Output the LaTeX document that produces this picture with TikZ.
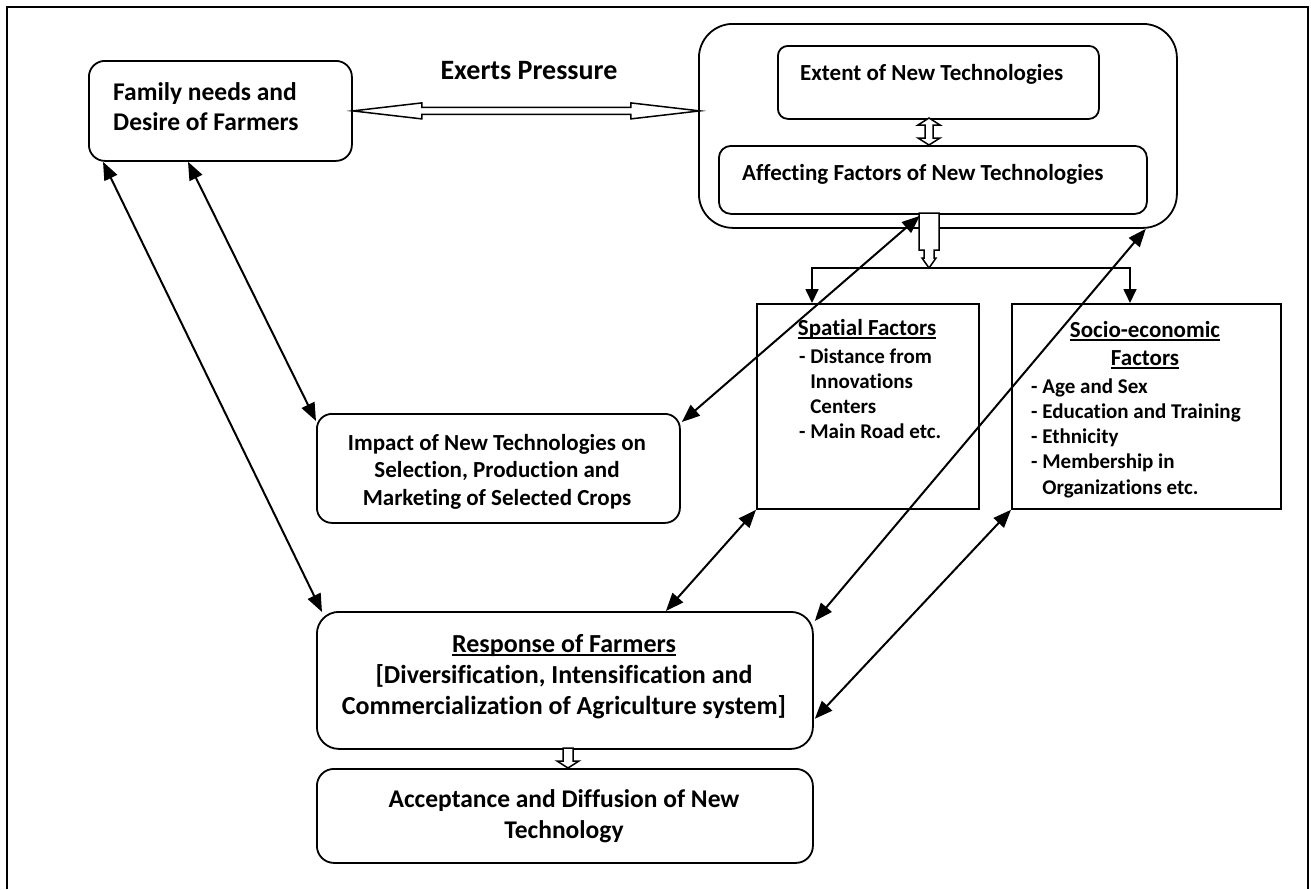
\documentclass[tikz,border=0pt]{standalone}
\usepackage{fontspec}
\setmainfont{Carlito}[Ligatures=NoCommon]
\usetikzlibrary{arrows.meta,calc}
\newcommand\mytabL[1]{\begin{tabular}[t]{@{}l@{}}#1\end{tabular}}
\newcommand\mytabC[1]{\begin{tabular}[t]{@{}c@{}}#1\end{tabular}}
\newcommand\myul[1]{\setbox0\hbox{#1}\rlap{\rule[-3.8pt]{\wd0}{1.5pt}}\box0}
\begin{document}
\begin{tikzpicture}[x=1pt,y=-1pt,
  box/.style={draw, line width=1.8pt, inner sep=0pt, anchor=north west},
  conn/.style={line width=2pt, {Triangle[length=18pt,width=14pt]}-{Triangle[length=18pt,width=14pt]}},
  down/.style={line width=1.7pt, -{Triangle[length=14pt,width=13pt]}},
  hollow/.style={draw, fill=white, line width=1.5pt, line join=miter},
  txt/.style={inner sep=0pt, anchor=base},
  fF/.style={font=\fontsize{25.5}{30}\selectfont\bfseries},
  fH/.style={font=\fontsize{23}{28}\selectfont\bfseries},
  fI/.style={font=\fontsize{21}{25.3}\selectfont\bfseries},
  fM/.style={font=\fontsize{23}{27.5}\selectfont\bfseries},
  fR/.style={font=\fontsize{26}{31}\selectfont\bfseries},
  fA/.style={font=\fontsize{25.5}{31}\selectfont\bfseries},
  fE/.style={font=\fontsize{28}{34}\selectfont\bfseries}]
\useasboundingbox (0,0) rectangle (1311,889);
\draw[line width=2.2pt] (7,889) -- (7,7) -- (1308,7) -- (1308,889);

% boxes
\node[box, rounded corners=16pt, minimum width=263pt, minimum height=100pt] (fam) at (88,60) {};
\node[box, rounded corners=34pt, minimum width=478pt, minimum height=204pt] (outer) at (698,23) {};
\node[box, rounded corners=10pt, minimum width=321pt, minimum height=73pt] (ext) at (777,45) {};
\node[box, rounded corners=12pt, minimum width=428pt, minimum height=68pt] (aff) at (718,145) {};
\node[box, minimum width=222pt, minimum height=205pt] (spat) at (756,303) {};
\node[box, minimum width=269pt, minimum height=205pt] (socio) at (1011,303) {};
\node[box, rounded corners=15pt, minimum width=363pt, minimum height=109pt] (imp) at (316,413) {};
\node[box, rounded corners=22pt, minimum width=496pt, minimum height=137pt] (resp) at (316,611) {};
\node[box, rounded corners=17pt, minimum width=496pt, minimum height=94pt] (acc) at (316,768) {};

% texts
\node[fE, txt] (tEx) at (529,79) {Exerts Pressure};
\node[fF, txt, anchor=base west] (tFam) at (113,100) {\mytabL{Family needs and\\Desire of Farmers}};
\node[fH, txt, anchor=base west] (tExt) at (800,80) {Extent of New Technologies};
\node[fH, txt, anchor=base west] (tAff) at (742,180) {Affecting Factors of New Technologies};
\node[fH, txt] (tSpH) at (867,335) {\myul{Spatial Factors}};
\node[fI, txt, anchor=base west] (tSpI) at (799,363) {\mytabL{- Distance from\\\phantom{- }Innovations\\\phantom{- }Centers\\- Main Road etc.}};
\node[fH, txt] (tSoH) at (1145,337) {\mytabC{\myul{Socio-economic}\\\myul{Factors}}};
\node[fI, txt, anchor=base west] (tSoI) at (1031,393) {\mytabL{- Age and Sex\\- Education and Training\\- Ethnicity\\- Membership in\\\phantom{- }Organizations etc.}};
\node[fM, txt] (tImp) at (497,450) {\mytabC{Impact of New Technologies on\\Selection, Production and\\Marketing of Selected Crops}};
\node[fR, txt] (tResp) at (564,652) {\mytabC{\myul{Response of Farmers}\\ {[}Diversification, Intensification and\\ Commercialization of Agriculture system{]}}};
\node[fA, txt] (tAcc) at (564,807) {\mytabC{Acceptance and Diffusion of New\\Technology}};

% hollow arrows
\begin{scope}[shift={(fam.east)}]
\path[hollow] (0,0) -- (69,-8) -- (69,-3.5) -- (278,-3.5) -- (278,-8) -- (347,0) -- (278,8) -- (278,3.5) -- (69,3.5) -- (69,8) -- cycle;
\end{scope}
\coordinate (ea) at (929,118);
\begin{scope}[shift={(ea)}]
\path[hollow] (0,0) -- (11,7) -- (4,7) -- (4,20) -- (11,20) -- (0,27) -- (-11,20) -- (-4,20) -- (-4,7) -- (-11,7) -- cycle;
\end{scope}
\coordinate (af) at (929,213);
\coordinate (br) at (929,268);
\begin{scope}[shift={(af)}]
\path[hollow] (-10,0) -- (10,0) -- (10,37) -- (5,37) -- (5,45) -- (7,45) -- (0,55) -- (-7,45) -- (-5,45) -- (-5,37) -- (-10,37) -- cycle;
\end{scope}
\coordinate (ra) at (568,748);
\begin{scope}[shift={(ra)}]
\path[hollow] (-5,0) -- (5,0) -- (5,13) -- (11,13) -- (0,20) -- (-11,13) -- (-5,13) -- cycle;
\end{scope}

% branch
\draw[down] (br) -| ($(spat.north west)+(56,0)$);
\draw[down] (br) -| ($(socio.north west)+(119,0)$);

% connectors
\draw[conn] ($(fam.south west)+(15,0)$) -- ($(resp.north west)+(6,1)$);
\draw[conn] ($(fam.south west)+(100,0)$) -- ($(imp.north west)+(0,8)$);
\draw[conn] ($(imp.north east)+(1,9)$) -- ($(aff.south)+(-13,1)$);
\draw[conn] (spat.south west) -- ($(resp.north)+(101,0)$);
\draw[conn] ($(resp.north east)+(1,10)$) -- ($(outer.south east)+(-32,0)$);
\draw[conn] (socio.south west) -- ($(resp.south east)+(1,-31)$);
\end{tikzpicture}
\end{document}
